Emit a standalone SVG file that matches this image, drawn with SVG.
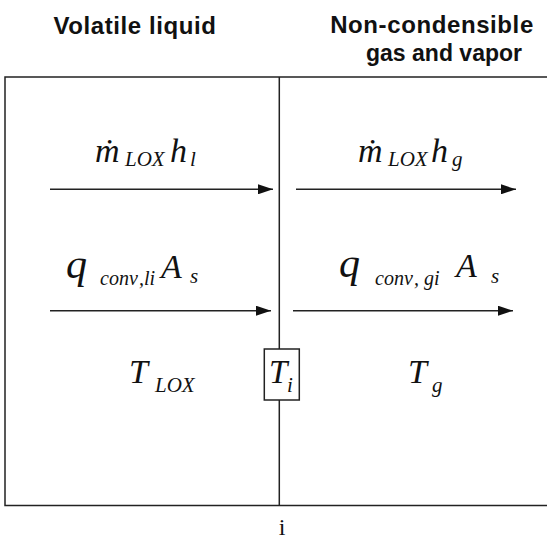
<svg xmlns="http://www.w3.org/2000/svg" width="547" height="539" viewBox="0 0 547 539">
<style>
.hd{font-family:"Liberation Sans",Arial,sans-serif;font-weight:bold;font-size:24px;letter-spacing:0.6px;fill:#111;text-anchor:middle}
.m{font-family:"Liberation Serif","Times New Roman",serif;font-style:italic;fill:#111}
.b{font-size:34px}
.s{font-size:21px}
.q{font-size:42px}
.ln{stroke:#222;stroke-width:1.5;fill:none}
.ar{stroke:#222;stroke-width:1.5;fill:none;marker-end:url(#ah)}
</style>
<defs>
<marker id="ah" viewBox="0 0 15 10" refX="15" refY="5" markerWidth="15" markerHeight="10" markerUnits="userSpaceOnUse" orient="auto">
<path d="M0,0 L15,5 L0,10 Z" fill="#111"/>
</marker>
</defs>
<rect width="547" height="539" fill="#fff"/>
<g id="headers">
<text class="hd" x="135" y="34">Volatile liquid</text>
<text class="hd" x="432" y="33">Non-condensible</text>
<text class="hd" x="444" y="61" style="letter-spacing:0;font-size:23px">gas and vapor</text>
</g>
<g id="frame">
<path class="ln" d="M547,77 H5 V505.5 H547"/>
<path class="ln" d="M279.3,77 V349 M279.3,400 V505.5"/>
</g>
<g id="Ti">
<rect class="ln" x="264.3" y="349" width="35" height="51"/>
<text class="m" x="269" y="383.3" style="font-size:33px">T</text>
<text class="m s" x="287" y="391.7">i</text>
</g>
<g id="connectors">
<line class="ar" x1="50" y1="189.3" x2="273" y2="189.3"/>
<line class="ar" x1="296" y1="189.3" x2="516" y2="189.3"/>
<line class="ar" x1="50" y1="310.7" x2="271" y2="310.7"/>
<line class="ar" x1="293" y1="310.7" x2="513" y2="310.7"/>
</g>
<g id="liquid">
<text class="m b" x="95" y="161.7">ṁ</text>
<text class="m s" x="125" y="165.5">LOX</text>
<text class="m b" x="170" y="161.7">h</text>
<text class="m s" x="190" y="165.5">l</text>
<text class="m q" x="66" y="278">q</text>
<text class="m s" x="100" y="285" style="font-size:20px">conv</text>
<text class="m s" x="139" y="285" style="font-size:20px">,</text>
<text class="m s" x="144" y="285" style="font-size:20px">li</text>
<text class="m b" x="161" y="278">A</text>
<text class="m s" x="190" y="283">s</text>
<text class="m b" x="129" y="383.3">T</text>
<text class="m s" x="155" y="391.7">LOX</text>
</g>
<g id="gas">
<text class="m b" x="358" y="161.7">ṁ</text>
<text class="m s" x="388" y="165.5">LOX</text>
<text class="m b" x="431" y="161.7">h</text>
<text class="m s" x="452" y="165.5">g</text>
<text class="m q" x="339" y="277">q</text>
<text class="m s" x="375" y="285" style="font-size:20px">conv</text>
<text class="m s" x="414" y="285" style="font-size:20px">,</text>
<text class="m s" x="424" y="285" style="font-size:20px">gi</text>
<text class="m b" x="456" y="276.7">A</text>
<text class="m s" x="491" y="283">s</text>
<text class="m b" x="408" y="383.3">T</text>
<text class="m s" x="432" y="391.7">g</text>
</g>
<g id="interface-label">
<text x="282" y="535" style="font-family:'Liberation Serif','Times New Roman',serif;font-size:24px;fill:#111;text-anchor:middle">i</text>
</g>
</svg>
